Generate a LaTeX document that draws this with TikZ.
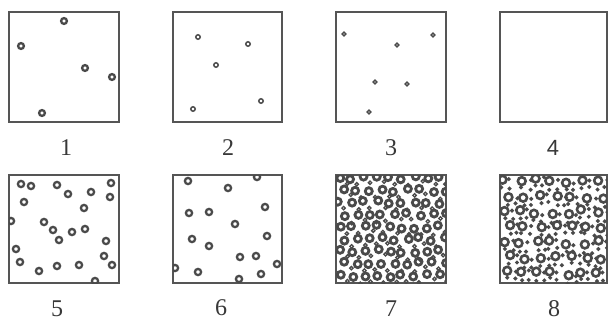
\documentclass[tikz,border=0pt]{standalone}
\usepackage{fontspec}
\setmainfont{Liberation Serif}
\newfontfamily\sansdigit{Liberation Sans}
\definecolor{boxgray}{HTML}{555555}
\definecolor{ringgray}{HTML}{4A4A4A}
\definecolor{labgray}{HTML}{383838}
\begin{document}
\begin{tikzpicture}[x=1pt,y=-1pt,
  panel/.style={draw=boxgray, line width=1.4pt, minimum width=#1, minimum height=108pt, inner sep=0pt, outer sep=0pt},
  panel/.default=110pt,
  lab/.style={font=\fontsize{24}{24}\selectfont, text=labgray, inner sep=0pt},
  ringA/.style={draw=ringgray, line width=2.3pt},
  ringB/.style={draw=ringgray, line width=1.5pt},
  ringC/.style={draw=ringgray, line width=1.4pt},
  bigring/.style={draw=ringgray, line width=2.8pt},
  smallring/.style={draw=ringgray, line width=1.3pt},
  bigringB/.style={draw=ringgray, line width=2.6pt},
  dotring/.style={draw=ringgray, line width=1.6pt}]
\useasboundingbox[fill=white] (0,0) rectangle (610,321);
% panels
\node[panel=110pt, minimum height=110pt] (b1) at (64,67) {};
\node[panel=109pt, minimum height=110pt] (b2) at (227.5,67) {};
\node[panel=110pt, minimum height=110pt] (b3) at (391,67) {};
\node[panel=107pt, minimum height=110pt] (b4) at (553.5,67) {};
\node[panel=110pt] (b5) at (64,229) {};
\node[panel=109pt] (b6) at (227.5,229) {};
\node[panel=110pt] (b7) at (391,229) {};
\node[panel=107pt] (b8) at (553.5,229) {};
% labels
\node[lab] (l1) at (66,148) {1};
\node[lab] (l2) at (228,148) {2};
\node[lab] (l3) at (391,148) {3};
\node[lab, font=\sansdigit\fontsize{22}{22}\selectfont] (l4) at (553,148) {4};
\node[lab] (l5) at (57,308.5) {5};
\node[lab] (l6) at (221,308) {6};
\node[lab] (l7) at (391,308.5) {7};
\node[lab] (l8) at (554,308.5) {8};
% panel 1
\foreach \p in {(64,21),(21,46),(85,68),(112,77),(42,113)}
  \draw[ringA] \p circle[radius=2.9];
% panel 2
\foreach \p in {(198,37),(248,44),(216,65),(261,101),(193,109)}
  \draw[ringB] \p circle[radius=2.2];
% panel 3
\foreach \p in {(344,34),(433,35),(397,45),(375,82),(407,84),(369,112)}
  \draw[ringC] \p circle[radius=1.9];
% panel 5
\begin{scope}
\clip (b5.south west) rectangle (b5.north east);
\foreach \p in {(21,184),(31,186),(57,185),(68,194),(91,192),(111,183),(110,197),
  (24,202),(84,208),(11,221),(44,222),(53,230),(72,232),(85,229),(59,240),(106,241),
  (16,249),(20,262),(104,256),(112,265),(39,271),(57,266),(79,265),(95,281)}
  \draw[ringA] \p circle[radius=3.1];
\end{scope}
% panel 6
\begin{scope}
\clip (b6.south west) rectangle (b6.north east);
\foreach \p in {(188,181),(228,188),(257,177),(189,213),(209,212),(265,207),(235,224),
  (192,239),(267,236),(209,246),(240,257),(256,256),(175,268),(198,272),(239,279),
  (261,274),(277,264)}
  \draw[ringA] \p circle[radius=3.1];
\end{scope}
% panel 7
\begin{scope}
\clip (b7.south west) rectangle (b7.north east);
\pgfmathsetseed{11}
\foreach \i in {0,...,8}{
  \foreach \j in {0,...,8}{
    \pgfmathsetmacro\px{339+\i*12.6+mod(\j,2)*5+rand*2}
    \pgfmathsetmacro\py{178+\j*12.2+rand*2}
    \draw[bigring] (\px,\py) circle[radius=3.5];
    \pgfmathsetmacro\qx{\px+6.3+rand*1.3}
    \pgfmathsetmacro\qy{\py+6.1+rand*1.3}
    \draw[smallring] (\qx,\qy) circle[radius=1.7];
  }}
\end{scope}
% panel 8
\begin{scope}
\clip (b8.south west) rectangle (b8.north east);
\pgfmathsetseed{23}
\foreach \i in {0,...,6}{
  \foreach \j in {0,...,6}{
    \pgfmathsetmacro\px{505+\i*15.5+mod(\j,2)*4+rand*2.5}
    \pgfmathsetmacro\py{181+\j*15.3+rand*2.5}
    \draw[bigringB] (\px,\py) circle[radius=3.9];
    \pgfmathsetmacro\ax{\px+7.8+rand*1.5}
    \pgfmathsetmacro\ay{\py+rand*1.5}
    \draw[dotring] (\ax,\ay) circle[radius=1.1];
    \pgfmathsetmacro\bx{\px+rand*1.5}
    \pgfmathsetmacro\by{\py+7.7+rand*1.5}
    \draw[dotring] (\bx,\by) circle[radius=1.1];
    \pgfmathsetmacro\cx{\px+7.8+rand*1.5}
    \pgfmathsetmacro\cy{\py+7.7+rand*1.5}
    \draw[dotring] (\cx,\cy) circle[radius=1.1];
  }}
\end{scope}
\end{tikzpicture}
\end{document}
